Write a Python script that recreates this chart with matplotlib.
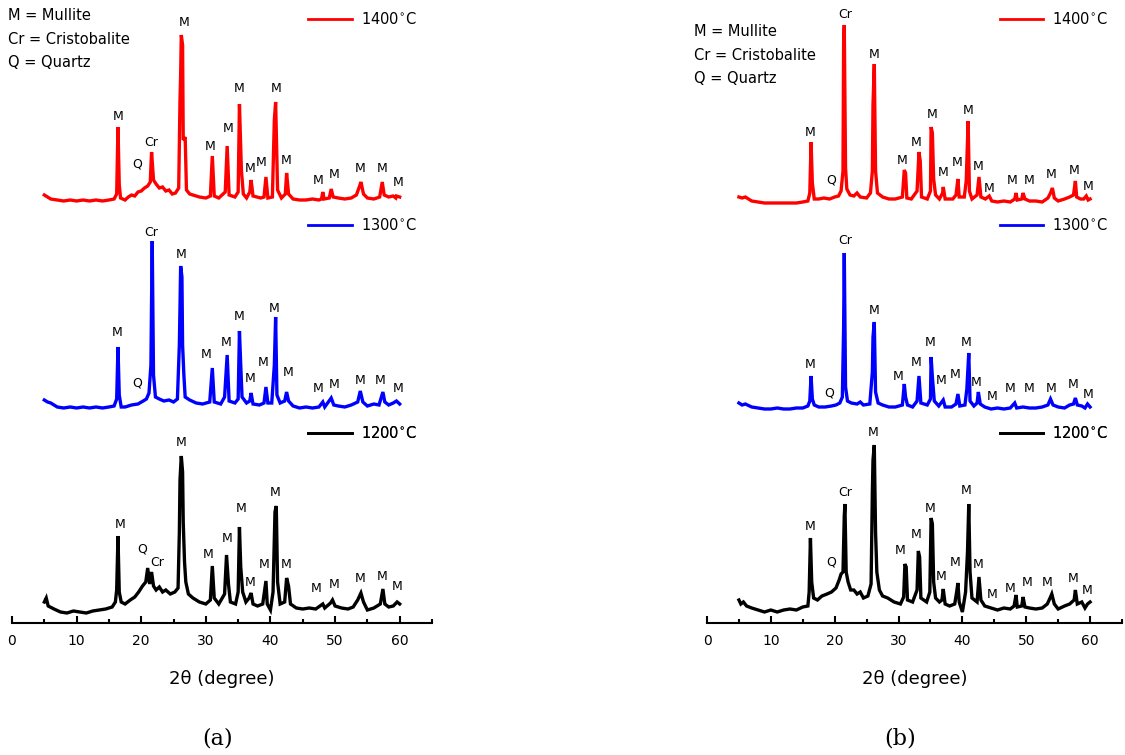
import matplotlib
matplotlib.use('Agg')
import matplotlib.pyplot as plt
from matplotlib.ticker import MultipleLocator

plt.rcParams['font.family'] = ['DejaVu Sans']

# ---- data (2theta in degree, intensity in arbitrary units above each trace's own baseline)

# panel (a)
a1400_tt = [5.0, 5.5, 6.0, 7, 8, 9, 10, 11, 12, 13, 14, 15, 15.8, 16.2, 16.4, 16.6, 16.8, 17.5, 18, 18.5, 19, 19.5, 20,
            20.5, 21, 21.4, 21.6, 21.9, 22.3, 22.8, 23.3, 23.8, 24.3, 24.8, 25.3, 25.8, 26.0, 26.1, 26.2, 26.4, 26.5,
            26.8, 27.0, 27.5, 28, 29, 30, 30.7, 31.0, 31.3, 32, 33.0, 33.3, 33.6, 34.5, 35.0, 35.2, 35.5, 35.8, 36.3,
            36.8, 37.0, 37.3, 38.5, 39.0, 39.3, 39.6, 40.3, 40.6, 40.8, 41.1, 41.7, 42.3, 42.5, 42.8, 43.5, 44.5,
            45.5, 46.5, 47.5, 47.9, 48.1, 48.3, 49.1, 49.4, 49.7, 50.5, 51.5, 52.5, 53.3, 53.8, 54.0, 54.4, 55.0,
            56.0, 56.9, 57.3, 57.6, 58.3, 59.0, 59.4, 59.5, 60.0]
a1400_i = [5, 3, 1, 0, -1, 0, -1, 0, -1, 0, -1, 0, 1, 6, 73, 15, 2, 0, 3, 5, 4, 8, 9,
           12, 14, 18, 48, 20, 16, 12, 13, 9, 10, 6, 7, 12, 100, 125, 165, 155, 60,
           63, 10, 6, 5, 3, 2, 4, 44, 4, 2, 8, 54, 5, 3, 8, 96, 30, 6, 2,
           8, 20, 4, 2, 3, 23, 2, 3, 80, 98, 10, 2, 6, 27, 6, 1, 0,
           0, 1, 0, 1, 8, 1, 2, 11, 3, 2, 1, 2, 5, 14, 18, 6, 2,
           1, 3, 18, 5, 3, 4, 2, 4, 3]

a1300_tt = [5.0, 5.5, 6, 7, 8, 9, 10, 11, 12, 13, 14, 15, 15.8, 16.2, 16.4, 16.6, 16.9, 17.5, 18.5, 19.5, 20.3, 20.8,
            21.2, 21.5, 21.6, 21.7, 21.9, 22.2, 22.8, 23.5, 24.3, 25.0, 25.6, 25.9, 26.0, 26.1, 26.3, 26.4, 26.6,
            26.8, 27.5, 28.5, 29.5, 30.6, 31.0, 31.3, 32.3, 32.9, 33.3, 33.6, 34.5, 35.0, 35.2, 35.4, 35.6, 36.3,
            36.8, 37.0, 37.3, 38.3, 39.0, 39.3, 39.6, 40.2, 40.6, 40.8, 41.0, 41.5, 42.2, 42.5, 42.8, 43.5, 44.5,
            45.5, 46.5, 47.5, 48.1, 48.4, 49.4, 49.8, 50.5, 51.5, 52.5, 53.5, 53.9, 54.3, 55.0, 56.0, 56.8, 57.4,
            57.7, 58.3, 59.0, 59.5, 60.0]
a1300_i = [5, 3, 2, -2, -3, -2, -3, -2, -3, -2, -3, -2, -1, 6, 58, 10, -2, -2, 0, 1, 4, 6,
           12, 40, 105, 164, 30, 8, 6, 4, 5, 3, 6, 60, 98, 139, 128, 60, 30,
           8, 5, 2, 1, 3, 37, 3, 1, 8, 50, 4, 2, 6, 74, 40, 8, 2,
           4, 12, 1, 0, 2, 18, 2, 2, 40, 88, 10, 2, 4, 13, 4, -1, -3,
           -2, -3, -2, 3, -2, 7, 0, -1, -2, 0, 3, 14, 3, -1, 1, 0, 13,
           3, 0, 2, 4, 1]

a1200_tt = [5.0, 5.3, 5.6, 6.5, 7.5, 8.5, 9.5, 10.5, 11.5, 12.5, 13.5, 14.5, 15.5, 16.0, 16.2, 16.4, 16.6, 16.9, 17.5,
            18.3, 19.0, 19.6, 20.2, 20.7, 21.0, 21.3, 21.6, 21.9, 22.3, 22.8, 23.3, 23.8, 24.5, 25.2, 25.7, 25.9,
            26.0, 26.2, 26.4, 26.5, 26.7, 26.9, 27.3, 28.0, 29.0, 30.0, 30.7, 31.0, 31.3, 32.0, 32.9, 33.2, 33.5,
            33.8, 34.6, 35.0, 35.2, 35.4, 35.7, 36.2, 36.7, 37.0, 37.3, 38.0, 38.8, 39.3, 39.5, 40.0, 40.4, 40.7,
            40.9, 41.1, 41.5, 42.2, 42.5, 42.8, 43.1, 44, 45, 46, 47, 48.1, 48.4, 49.3, 49.6, 50.0, 51.0, 52.0,
            52.8, 53.5, 54.0, 54.4, 55.0, 56.0, 57.0, 57.4, 57.7, 58.3, 59.0, 59.6, 60.0]
a1200_i = [10, 14, 6, 3, 0, -1, 1, 0, -1, 1, 2, 3, 5, 10, 22, 76, 20, 10, 8,
           12, 15, 20, 26, 30, 44, 28, 40, 26, 22, 25, 20, 22, 18, 20, 24, 80,
           132, 156, 140, 90, 50, 30, 18, 14, 10, 8, 12, 46, 14, 8, 18, 57, 28,
           10, 8, 20, 85, 45, 20, 10, 14, 19, 8, 6, 8, 31, 8, 2, 20, 100,
           106, 30, 8, 10, 34, 26, 8, 4, 3, 4, 3, 8, 4, 9, 12, 6, 4, 3,
           5, 12, 19, 10, 2, 4, 8, 23, 8, 5, 6, 10, 8]

# panel (b)
b1400_tt = [5.0, 5.5, 6, 6.5, 7, 8, 9, 10, 11, 12, 13, 14, 15, 15.8, 16.1, 16.3, 16.5, 16.8, 17.5, 18.3, 19.2, 20.0,
            20.6, 21.0, 21.3, 21.4, 21.5, 21.7, 21.9, 22.4, 23.0, 23.5, 24.0, 25.0, 25.6, 25.9, 26.0, 26.2, 26.4,
            26.7, 27.5, 28.5, 29.5, 30.6, 30.9, 31.1, 31.3, 32.0, 32.9, 33.2, 33.4, 33.6, 34.5, 35.0, 35.1, 35.3,
            35.5, 35.8, 36.4, 36.9, 37.0, 37.3, 38.5, 39.0, 39.3, 39.5, 40.3, 40.6, 40.9, 41.1, 41.5, 42.3, 42.6,
            42.9, 43.6, 44.2, 44.6, 45.5, 46.5, 47.5, 48.2, 48.4, 48.6, 49.3, 49.5, 49.8, 50.5, 51.5, 52.5, 53.4,
            53.8, 54.1, 54.4, 55.0, 56.0, 56.8, 57.4, 57.7, 57.9, 58.5, 59.0, 59.4, 59.7, 60.0]
b1400_i = [4, 3, 4, 2, 0, -1, -2, -2, -2, -2, -2, -2, -1, 0, 8, 59, 18, 2, 2, 3, 2, 4,
           5, 10, 30, 159, 176, 33, 12, 6, 5, 8, 4, 3, 8, 30, 96, 137, 30,
           8, 4, 2, 2, 4, 31, 28, 3, 2, 10, 49, 40, 4, 2, 10, 74, 68,
           22, 6, 2, 8, 14, 2, 2, 6, 22, 4, 4, 20, 80, 10, 2, 6, 24,
           4, 2, 5, 0, -1, 0, -1, 2, 8, 1, 2, 8, 2, 0, 0, -1, 3,
           8, 13, 3, 0, 2, 4, 6, 20, 4, 2, 2, 5, 1, 2]

b1300_tt = [5.0, 5.5, 6, 7, 8, 9, 10, 11, 12, 13, 14, 15, 15.8, 16.1, 16.3, 16.5, 16.8, 17.5, 18.5, 19.5, 20.2, 20.8,
            21.2, 21.4, 21.5, 21.7, 22.0, 22.6, 23.5, 24.0, 24.5, 25.5, 25.9, 26.0, 26.2, 26.4, 26.8, 27.5, 28.5,
            29.5, 30.6, 30.9, 31.1, 31.4, 32.2, 32.9, 33.2, 33.5, 34.5, 35.0, 35.1, 35.3, 35.6, 36.3, 37.0, 37.3,
            38.3, 39.0, 39.3, 39.6, 40.4, 40.7, 41.0, 41.2, 41.8, 42.3, 42.5, 42.8, 43.5, 44.5, 45.5, 46.5, 47.5,
            48.2, 48.5, 49.5, 50.5, 51.5, 52.5, 53.4, 53.8, 54.2, 55.0, 56.0, 56.8, 57.4, 57.7, 58.0, 58.7, 59.2,
            59.6, 60.0]
b1300_i = [4, 2, 3, 0, -1, -2, -2, -1, -2, -2, -1, -1, 1, 6, 31, 8, 2, 0, 0, 1, 2, 4,
           10, 80, 154, 20, 6, 4, 3, 5, 2, 3, 35, 70, 85, 15, 4, 2, 0,
           0, 2, 23, 10, 2, 0, 6, 31, 4, 2, 8, 50, 30, 6, 1, 7, 0,
           0, 3, 13, 1, 2, 18, 54, 6, 1, 4, 15, 3, 0, -2, -1, -2, -1,
           4, -1, 0, -1, -1, 0, 2, 8, 2, 0, -1, 2, 3, 9, 2, 1, -1,
           3, 0]

b1200_tt = [5.0, 5.3, 5.7, 6.2, 7.0, 8.0, 9.0, 10.0, 11.0, 12.0, 13.0, 14.0, 15.0, 15.8, 16.0, 16.2, 16.4, 16.7, 17.3,
            18.0, 18.8, 19.5, 20.2, 20.7, 21.0, 21.3, 21.5, 21.6, 21.8, 22.1, 22.5, 23.0, 23.5, 24.0, 24.5, 25.2,
            25.7, 25.9, 26.0, 26.2, 26.4, 26.6, 27.0, 27.5, 28.3, 29.3, 30.3, 30.8, 31.0, 31.2, 31.4, 32.2, 32.9,
            33.1, 33.3, 33.5, 34.4, 34.9, 35.1, 35.3, 35.5, 35.8, 36.4, 36.8, 37.0, 37.3, 38.0, 38.8, 39.1, 39.3,
            39.5, 40.0, 40.5, 40.8, 41.0, 41.2, 41.5, 42.3, 42.6, 42.9, 43.5, 44.5, 45.5, 46.5, 47.5, 48.1, 48.4,
            48.6, 49.3, 49.5, 49.8, 50.5, 51.5, 52.5, 53.3, 53.8, 54.0, 54.4, 55.0, 56.0, 56.8, 57.5, 57.7, 58.0,
            58.7, 59.2, 59.6, 60.0]
b1200_i = [12, 8, 10, 6, 4, 2, 0, 2, 0, 2, 3, 2, 5, 6, 20, 74, 30, 14, 12,
           16, 18, 20, 24, 32, 38, 40, 96, 108, 40, 30, 22, 22, 18, 20, 14, 16,
           28, 120, 152, 167, 80, 40, 22, 16, 14, 10, 8, 15, 48, 45, 12, 10, 22,
           61, 55, 14, 10, 20, 94, 88, 30, 14, 10, 12, 23, 8, 6, 8, 20, 29,
           10, 0, 20, 60, 108, 40, 14, 10, 35, 12, 6, 4, 2, 4, 3, 6, 17,
           5, 6, 15, 5, 4, 3, 4, 8, 15, 18, 8, 3, 6, 8, 12, 22, 8,
           10, 4, 8, 10]

# peak markers: (phase, 2theta, height above trace baseline)
a1400_marks = [('M', 16.4, 83), ('Q', 19.4, 36), ('Cr', 21.6, 57), ('M', 26.7, 177), ('M', 30.6, 54),
               ('M', 33.5, 72), ('M', 35.1, 111), ('M', 36.8, 31), ('M', 38.6, 38), ('M', 40.8, 111),
               ('M', 42.5, 39), ('M', 47.3, 20), ('M', 49.8, 26), ('M', 53.9, 31), ('M', 57.3, 31),
               ('M', 59.7, 17)]
a1300_marks = [('M', 16.2, 72), ('Q', 19.3, 22), ('Cr', 21.5, 173), ('M', 26.1, 151), ('M', 30.0, 51),
               ('M', 33.2, 63), ('M', 35.1, 88), ('M', 36.8, 26), ('M', 38.9, 43), ('M', 40.6, 97),
               ('M', 42.7, 33), ('M', 47.3, 16), ('M', 49.8, 20), ('M', 53.9, 24), ('M', 56.9, 25),
               ('M', 59.7, 16)]
a1200_marks = [('M', 16.8, 87), ('Q', 20.2, 63), ('Cr', 22.4, 50), ('M', 26.2, 169), ('M', 30.3, 58),
               ('M', 33.3, 74), ('M', 35.5, 103), ('M', 36.8, 30), ('M', 39.0, 48), ('M', 40.7, 119),
               ('M', 42.5, 48), ('M', 47.1, 24), ('M', 49.8, 28), ('M', 53.8, 34), ('M', 57.3, 36),
               ('M', 59.6, 26)]
b1400_marks = [('M', 16.2, 69), ('Q', 19.4, 21), ('Cr', 21.7, 186), ('M', 26.2, 147), ('M', 30.5, 40),
               ('M', 32.8, 59), ('M', 35.3, 86), ('M', 37.0, 29), ('M', 39.1, 39), ('M', 40.9, 90),
               ('M', 42.5, 35), ('M', 44.2, 12), ('M', 47.8, 21), ('M', 50.4, 21), ('M', 53.9, 27),
               ('M', 57.5, 30), ('M', 59.7, 14)]
b1300_marks = [('M', 16.2, 43), ('Q', 19.1, 14), ('Cr', 21.7, 167), ('M', 26.2, 97), ('M', 29.9, 30),
               ('M', 32.8, 44), ('M', 35.0, 65), ('M', 36.7, 26), ('M', 38.9, 33), ('M', 40.6, 65),
               ('M', 42.1, 25), ('M', 44.6, 10), ('M', 47.4, 18), ('M', 50.4, 18), ('M', 53.9, 18),
               ('M', 57.3, 23), ('M', 59.7, 13)]
b1200_marks = [('M', 16.1, 85), ('Q', 19.4, 50), ('Cr', 21.6, 120), ('M', 26.0, 180), ('M', 30.2, 61),
               ('M', 32.8, 77), ('M', 35.0, 103), ('M', 36.7, 36), ('M', 38.9, 50), ('M', 40.6, 121),
               ('M', 42.5, 48), ('M', 44.6, 17), ('M', 47.4, 23), ('M', 50.1, 29), ('M', 53.3, 29),
               ('M', 57.3, 33), ('M', 59.5, 22)]

temperatures = ['1400', '1300', '1200']
key_lines = ['M = Mullite', 'Cr = Cristobalite', 'Q = Quartz']
panel_names = ['(a)', '(b)']


def draw_panel(fig, rect, traces, marks, offsets, legend_y, key_xy, name, name_x):
    ax = fig.add_axes(rect)
    colors = ['#ff0000', '#0000ff', 'black']

    for (tt, inten), mk, off, col, temp, ly in zip(traces, marks, offsets, colors, temperatures, legend_y):
        line, = ax.plot(tt, [v + off for v in inten], color=col, lw=2.4, solid_joinstyle='miter')
        for s, x, h in mk:
            ax.text(x, off + h, s, ha='center', va='center', fontsize=9)
        leg = ax.legend([line], [temp + '$^{\\circ}$C'], loc='center left', bbox_to_anchor=(0.705, ly),
                        frameon=False, fontsize=10.5, handlelength=3.0, handletextpad=0.6,
                        borderpad=0, borderaxespad=0)
        for ln in leg.get_lines():
            ln.set_linewidth(2.0)
        ax.add_artist(leg)

    for i, txt in enumerate(key_lines):
        fig.text(key_xy[0], key_xy[1] - i * 0.0311, txt, fontsize=10.5, ha='left', va='center')

    ax.set_xlim(0, 65)
    ax.set_ylim(0, 623)
    for sp in ['top', 'right', 'left']:
        ax.spines[sp].set_visible(False)
    ax.spines['bottom'].set_linewidth(1.5)
    ax.set_yticks([])
    ax.set_xticks(range(0, 61, 10))
    ax.xaxis.set_minor_locator(MultipleLocator(5))
    ax.tick_params(axis='x', which='major', direction='in', length=5, width=1.5, labelsize=10, pad=8)
    ax.tick_params(axis='x', which='minor', direction='in', length=3, width=1.5)
    ax.set_xlabel('2\u03b8 (degree)', fontsize=13, labelpad=16)
    ax.patch.set_alpha(0)

    fig.text(name_x, 1 - 738 / 755, name, fontsize=16, family='DejaVu Serif', ha='center', va='center')
    return ax


def main():
    fig = plt.figure(figsize=(11.25, 7.55), dpi=100)

    bottom = 1 - 623 / 755
    height = 1 - bottom
    legend_y = [(623 - 19) / 623, (623 - 225) / 623, (623 - 433) / 623]

    draw_panel(fig, [12 / 1125, bottom, 420 / 1125, height],
               [(a1400_tt, a1400_i), (a1300_tt, a1300_i), (a1200_tt, a1200_i)],
               [a1400_marks, a1300_marks, a1200_marks],
               [423, 218, 11], legend_y, (8 / 1125, 1 - 16 / 755), panel_names[0], 218 / 1125)

    draw_panel(fig, [707 / 1125, bottom, 415 / 1125, height],
               [(b1400_tt, b1400_i), (b1300_tt, b1300_i), (b1200_tt, b1200_i)],
               [b1400_marks, b1300_marks, b1200_marks],
               [422, 216, 11], legend_y, (694 / 1125, 1 - 32 / 755), panel_names[1], 900 / 1125)

    fig.savefig('out.png', dpi=100, facecolor='white')
    plt.close()


if __name__ == "__main__":
    main()
